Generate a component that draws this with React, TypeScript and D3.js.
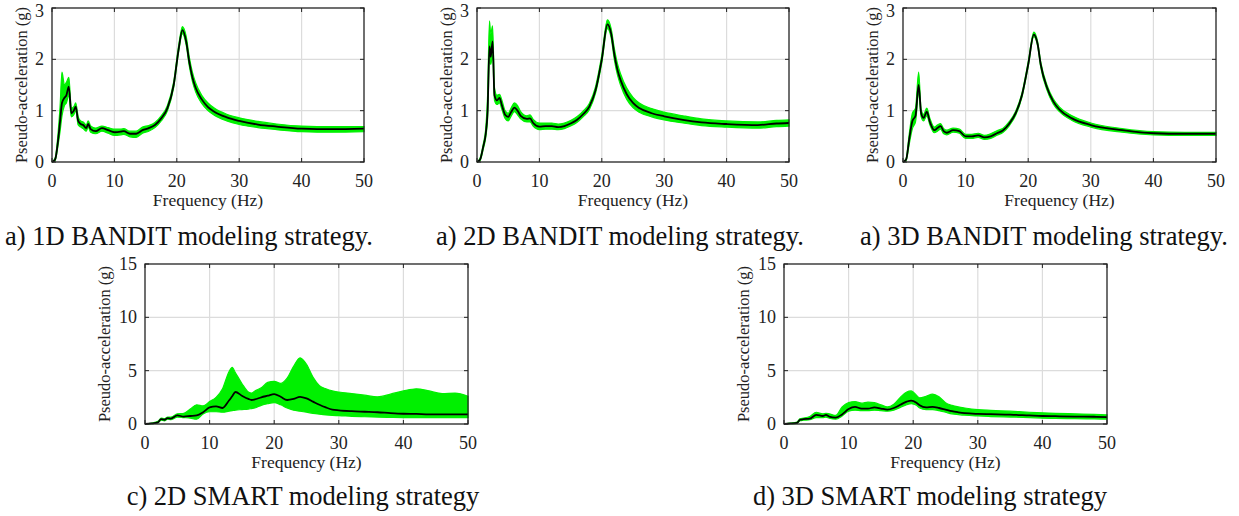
import React from "react";
import * as d3 from "d3";

// ---- data ----
const X_TICKS = [0, 10, 20, 30, 40, 50];
const Y_TICKS_BANDIT = [0, 1, 2, 3];
const Y_TICKS_SMART = [0, 5, 10, 15];

const freq1D = [0, 0.5, 1, 1.3, 1.6, 2, 2.3, 2.7, 3.1, 3.5, 3.8, 4.2, 4.6, 5, 5.5, 5.8, 6.2, 7, 8, 9, 10, 11, 11.5, 12.5, 13.5, 14.5, 15.5, 16.5, 17.5, 18.5, 19.5, 20.3, 20.9, 21.5, 22, 22.5, 23, 24, 25, 26, 28, 30, 33, 36, 40, 45, 50];
const mean1D = [0, 0.05, 0.45, 0.8, 1.15, 1.25, 1.3, 1.47, 0.95, 1.0, 1.08, 0.8, 0.74, 0.72, 0.66, 0.74, 0.64, 0.6, 0.66, 0.62, 0.58, 0.59, 0.6, 0.55, 0.55, 0.62, 0.66, 0.72, 0.85, 1.05, 1.5, 2.2, 2.57, 2.35, 1.95, 1.65, 1.45, 1.22, 1.07, 0.98, 0.87, 0.8, 0.73, 0.69, 0.65, 0.64, 0.65];
const lo1D = [0, 0.03, 0.35, 0.6, 0.9, 1.1, 1.15, 1.3, 0.88, 0.92, 1.0, 0.72, 0.68, 0.65, 0.6, 0.68, 0.58, 0.55, 0.6, 0.56, 0.52, 0.53, 0.54, 0.49, 0.48, 0.56, 0.6, 0.67, 0.8, 1.0, 1.45, 2.15, 2.5, 2.28, 1.87, 1.57, 1.37, 1.14, 1.0, 0.91, 0.8, 0.73, 0.67, 0.63, 0.59, 0.58, 0.59];
const hi1D = [0, 0.08, 0.6, 1.1, 1.75, 1.5, 1.55, 1.65, 1.05, 1.08, 1.15, 0.88, 0.8, 0.78, 0.72, 0.8, 0.7, 0.66, 0.7, 0.67, 0.64, 0.64, 0.65, 0.6, 0.6, 0.68, 0.71, 0.77, 0.9, 1.1, 1.56, 2.27, 2.64, 2.45, 2.05, 1.75, 1.55, 1.3, 1.15, 1.05, 0.93, 0.86, 0.79, 0.74, 0.7, 0.69, 0.69];

const freq2D = [0, 0.5, 1, 1.4, 1.7, 2.0, 2.2, 2.5, 2.8, 3.2, 3.6, 4.0, 4.5, 5, 5.5, 6, 6.5, 7, 8, 8.5, 9, 10, 11, 12, 13, 14, 15, 16, 17, 18, 19, 20, 20.9, 21.5, 22, 22.5, 23, 24, 25, 26, 28, 30, 33, 36, 40, 45, 48, 50];
const mean2D = [0, 0.05, 0.3, 0.55, 1.0, 2.25, 2.05, 2.35, 1.3, 1.2, 1.25, 1.1, 0.92, 0.88, 0.98, 1.06, 1.0, 0.9, 0.84, 0.85, 0.76, 0.69, 0.7, 0.7, 0.68, 0.7, 0.75, 0.82, 0.93, 1.08, 1.4, 2.0, 2.68, 2.5, 2.1, 1.8, 1.6, 1.32, 1.15, 1.05, 0.95, 0.89, 0.82, 0.77, 0.74, 0.72, 0.75, 0.76];
const lo2D = [0, 0.03, 0.25, 0.48, 0.85, 2.0, 1.9, 2.1, 1.2, 1.12, 1.15, 1.02, 0.85, 0.8, 0.9, 0.98, 0.92, 0.84, 0.78, 0.78, 0.7, 0.63, 0.64, 0.64, 0.63, 0.65, 0.7, 0.77, 0.88, 1.02, 1.34, 1.93, 2.6, 2.42, 2.0, 1.7, 1.5, 1.22, 1.06, 0.97, 0.88, 0.82, 0.76, 0.71, 0.68, 0.66, 0.69, 0.7];
const hi2D = [0, 0.08, 0.35, 0.65, 1.3, 2.75, 2.5, 2.65, 1.45, 1.3, 1.32, 1.2, 1.0, 0.95, 1.06, 1.15, 1.1, 0.98, 0.9, 0.92, 0.83, 0.76, 0.76, 0.76, 0.74, 0.76, 0.81, 0.88, 0.99, 1.14, 1.47, 2.08, 2.77, 2.6, 2.22, 1.92, 1.72, 1.44, 1.26, 1.15, 1.04, 0.97, 0.9, 0.84, 0.8, 0.78, 0.81, 0.82];

const freq3D = [0, 0.5, 1, 1.5, 2, 2.5, 2.9, 3.3, 3.8, 4.3, 5, 5.5, 6, 6.5, 7, 8, 9, 10, 11, 12, 13, 14, 15, 16, 17, 18, 19, 20, 20.9, 21.5, 22, 23, 24, 25, 27, 30, 35, 40, 45, 50];
const mean3D = [0, 0.05, 0.45, 0.8, 0.9, 1.5, 0.95, 0.86, 0.98, 0.78, 0.62, 0.66, 0.7, 0.6, 0.57, 0.62, 0.6, 0.5, 0.5, 0.52, 0.48, 0.5, 0.56, 0.62, 0.75, 0.95, 1.3, 1.9, 2.48, 2.3, 1.9, 1.45, 1.18, 1.02, 0.85, 0.72, 0.62, 0.56, 0.55, 0.55];
const lo3D = [0, 0.03, 0.35, 0.65, 0.78, 1.35, 0.88, 0.8, 0.9, 0.72, 0.57, 0.6, 0.64, 0.55, 0.53, 0.58, 0.56, 0.46, 0.46, 0.48, 0.44, 0.46, 0.52, 0.58, 0.71, 0.91, 1.26, 1.86, 2.44, 2.26, 1.85, 1.4, 1.13, 0.98, 0.81, 0.68, 0.58, 0.53, 0.52, 0.52];
const hi3D = [0, 0.07, 0.55, 0.95, 1.05, 1.75, 1.02, 0.93, 1.05, 0.85, 0.68, 0.72, 0.75, 0.65, 0.62, 0.66, 0.64, 0.54, 0.54, 0.56, 0.52, 0.55, 0.61, 0.66, 0.79, 0.99, 1.34, 1.95, 2.53, 2.35, 1.95, 1.5, 1.23, 1.07, 0.9, 0.76, 0.65, 0.59, 0.58, 0.58];

const freqS2 = [0, 1, 2, 2.5, 3, 3.5, 4, 5, 6, 7, 8, 9, 10, 11, 12, 13, 13.5, 14, 15, 16, 16.5, 17, 18, 19, 20, 21, 22, 23, 24, 25, 26, 27, 28, 29, 30, 32, 34, 36, 38, 40, 42, 44, 46, 48, 50];
const meanS2 = [0, 0.05, 0.15, 0.45, 0.4, 0.55, 0.5, 0.8, 0.7, 0.75, 0.8, 1.1, 1.55, 1.65, 1.5, 2.2, 2.6, 3.0, 2.65, 2.35, 2.25, 2.3, 2.5, 2.65, 2.8, 2.55, 2.25, 2.35, 2.55, 2.4, 2.1, 1.8, 1.55, 1.35, 1.28, 1.2, 1.15, 1.1, 1.02, 0.96, 0.94, 0.9, 0.9, 0.9, 0.9];
const loS2 = [0, 0.03, 0.1, 0.35, 0.3, 0.45, 0.4, 0.65, 0.6, 0.55, 0.45, 0.95, 1.15, 1.15, 1.1, 1.2, 1.25, 1.3, 1.35, 1.4, 1.45, 1.5, 1.75, 1.9, 2.0, 1.8, 1.5, 1.3, 1.2, 1.1, 1.0, 0.92, 0.85, 0.8, 0.78, 0.72, 0.68, 0.65, 0.62, 0.6, 0.6, 0.6, 0.6, 0.6, 0.6];
const hiS2 = [0, 0.08, 0.25, 0.55, 0.5, 0.65, 0.65, 0.95, 1.0, 1.4, 1.8, 1.7, 2.1, 2.5, 3.3, 4.9, 5.3, 4.8, 3.8, 3.0, 2.9, 3.1, 3.4, 3.9, 4.0, 3.8, 4.3, 5.4, 6.2, 5.6, 4.4, 3.6, 3.3, 3.1, 3.0, 2.85, 2.7, 2.55, 2.8, 3.1, 3.3, 3.1, 2.85, 2.9, 2.6];

const freqS3 = [0, 1, 2, 2.5, 3, 4, 5, 6, 6.5, 7, 8, 9, 10, 11, 12, 13, 14, 15, 16, 17, 18, 19, 19.7, 20.5, 21, 22, 23, 24, 25, 26, 27, 28, 30, 32, 35, 38, 40, 42, 45, 48, 50];
const meanS3 = [0, 0.05, 0.1, 0.4, 0.45, 0.5, 0.85, 0.75, 0.85, 0.7, 0.6, 0.9, 1.4, 1.6, 1.45, 1.45, 1.55, 1.45, 1.35, 1.5, 1.8, 2.1, 2.2, 2.0, 1.75, 1.55, 1.6, 1.5, 1.35, 1.2, 1.1, 1.02, 0.95, 0.92, 0.88, 0.8, 0.75, 0.73, 0.7, 0.68, 0.65];
const loS3 = [0, 0.03, 0.06, 0.3, 0.35, 0.4, 0.6, 0.6, 0.65, 0.55, 0.45, 0.75, 1.2, 1.3, 1.25, 1.25, 1.3, 1.25, 1.2, 1.3, 1.55, 1.8, 1.9, 1.75, 1.5, 1.35, 1.35, 1.25, 1.1, 0.95, 0.88, 0.82, 0.75, 0.7, 0.65, 0.6, 0.55, 0.52, 0.5, 0.47, 0.45];
const hiS3 = [0, 0.08, 0.18, 0.5, 0.55, 0.7, 1.1, 0.95, 1.0, 0.95, 0.8, 1.6, 2.0, 2.1, 1.95, 2.05, 2.0, 1.8, 1.6, 1.85, 2.5, 3.0, 3.1, 2.7, 2.45, 2.6, 2.8, 2.55, 2.0, 1.75, 1.6, 1.5, 1.35, 1.28, 1.2, 1.1, 1.05, 1.0, 0.95, 0.9, 0.85];

const CAPTIONS = [
  "a) 1D BANDIT modeling strategy.",
  "a) 2D BANDIT modeling strategy.",
  "a) 3D BANDIT modeling strategy.",
  "c) 2D SMART modeling strategy",
  "d) 3D SMART modeling strategy",
];

const FONT = "'Liberation Serif', 'Times New Roman', serif";
const GREEN = "#00f000";

type PanelProps = {
  left: number; right: number; top: number; bottom: number;
  yMax: number; yTicks: number[];
  freq: number[]; mean: number[]; lo: number[]; hi: number[];
  labelOffset: number;
};

const Panel = ({ left, right, top, bottom, yMax, yTicks, freq, mean, lo, hi, labelOffset }: PanelProps) => {
  const x = d3.scaleLinear().domain([0, 50]).range([left, right]);
  const y = d3.scaleLinear().domain([0, yMax]).range([bottom, top]);

  const idx = freq.map((_, i) => i);
  const band = d3.area<number>()
    .x((i) => x(freq[i]))
    .y0((i) => y(lo[i]))
    .y1((i) => y(hi[i]))
    .curve(d3.curveMonotoneX);
  const line = d3.line<number>()
    .x((i) => x(freq[i]))
    .y((i) => y(mean[i]))
    .curve(d3.curveMonotoneX);

  const tl = 4;
  return (
    <g>
      {X_TICKS.slice(1, -1).map((t) => (
        <line key={"gx" + t} x1={x(t)} x2={x(t)} y1={top} y2={bottom} stroke="#dcdcdc" strokeWidth={1.2} />
      ))}
      {yTicks.slice(1, -1).map((t) => (
        <line key={"gy" + t} x1={left} x2={right} y1={y(t)} y2={y(t)} stroke="#dcdcdc" strokeWidth={1.2} />
      ))}
      <path d={band(idx) ?? ""} fill={GREEN} stroke={GREEN} strokeWidth={1.2} />
      <path d={line(idx) ?? ""} fill="none" stroke="#000" strokeWidth={1.8} />
      <rect x={left} y={top} width={right - left} height={bottom - top} fill="none" stroke="#222" strokeWidth={1.3} />
      {X_TICKS.map((t) => (
        <g key={"tx" + t}>
          <line x1={x(t)} x2={x(t)} y1={bottom} y2={bottom - tl} stroke="#222" />
          <line x1={x(t)} x2={x(t)} y1={top} y2={top + tl} stroke="#222" />
          <text x={x(t)} y={bottom + 25} textAnchor="middle" fontSize={18} fontFamily={FONT} fill="#222">{t}</text>
        </g>
      ))}
      {yTicks.map((t) => (
        <g key={"ty" + t}>
          <line x1={left} x2={left + tl} y1={y(t)} y2={y(t)} stroke="#222" />
          <line x1={right} x2={right - tl} y1={y(t)} y2={y(t)} stroke="#222" />
          <text x={left - 8} y={Math.max(y(t) + 6, 16.5)} textAnchor="end" fontSize={18} fontFamily={FONT} fill="#222">{t}</text>
        </g>
      ))}
      <text x={(left + right) / 2} y={bottom + 44} textAnchor="middle" fontSize={17.5} fontFamily={FONT} fill="#222">Frequency (Hz)</text>
      <text transform={`translate(${left - labelOffset},${(top + bottom) / 2}) rotate(-90)`} textAnchor="middle" fontSize={16.5} fontFamily={FONT} fill="#222">Pseudo-acceleration (g)</text>
    </g>
  );
};

export default function App() {
  return (
    <div style={{ position: "absolute", left: 0, top: 0 }}>
      <svg width={1239} height={516} style={{ display: "block", background: "#fff" }}>
        <Panel left={52} right={364} top={8} bottom={162} yMax={3} yTicks={Y_TICKS_BANDIT} freq={freq1D} mean={mean1D} lo={lo1D} hi={hi1D} labelOffset={25} />
        <Panel left={477} right={789} top={8} bottom={162} yMax={3} yTicks={Y_TICKS_BANDIT} freq={freq2D} mean={mean2D} lo={lo2D} hi={hi2D} labelOffset={25} />
        <Panel left={903} right={1216} top={8} bottom={162} yMax={3} yTicks={Y_TICKS_BANDIT} freq={freq3D} mean={mean3D} lo={lo3D} hi={hi3D} labelOffset={25} />
        <Panel left={145} right={468} top={264} bottom={424} yMax={15} yTicks={Y_TICKS_SMART} freq={freqS2} mean={meanS2} lo={loS2} hi={hiS2} labelOffset={35} />
        <Panel left={784} right={1107} top={264} bottom={424} yMax={15} yTicks={Y_TICKS_SMART} freq={freqS3} mean={meanS3} lo={loS3} hi={hiS3} labelOffset={35} />
        <text x={5} y={245} fontSize={26.5} fontFamily={FONT} fill="#111">{CAPTIONS[0]}</text>
        <text x={436} y={245} fontSize={26.5} fontFamily={FONT} fill="#111">{CAPTIONS[1]}</text>
        <text x={860} y={245} fontSize={26.5} fontFamily={FONT} fill="#111">{CAPTIONS[2]}</text>
        <text x={303} y={505} textAnchor="middle" fontSize={26.5} fontFamily={FONT} fill="#111">{CAPTIONS[3]}</text>
        <text x={930} y={505} textAnchor="middle" fontSize={26.5} fontFamily={FONT} fill="#111">{CAPTIONS[4]}</text>
      </svg>
    </div>
  );
}
